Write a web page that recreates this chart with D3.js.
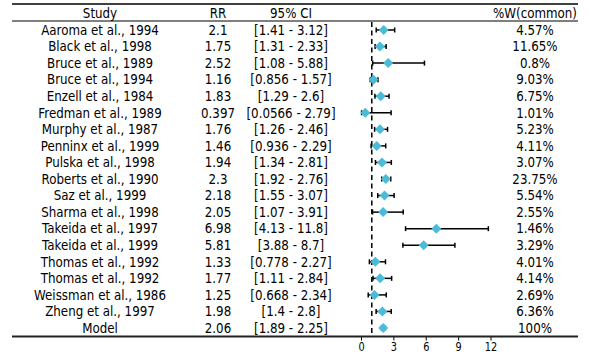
<!DOCTYPE html>
<html>
<head>
<meta charset="utf-8">
<script src="https://cdn.jsdelivr.net/npm/d3@7"></script>
<style>
  html, body { margin: 0; padding: 0; background: #fff; }
  svg text { font-family: "DejaVu Sans", sans-serif; font-size: 13.5px; fill: #000; }
</style>
</head>
<body>
<svg id="chart" width="590" height="354"></svg>
<script>
const studies = ["Aaroma et al., 1994","Black et al., 1998","Bruce et al., 1989","Bruce et al., 1994","Enzell et al., 1984","Fredman et al., 1989","Murphy et al., 1987","Penninx et al., 1999","Pulska et al., 1998","Roberts et al., 1990","Saz et al., 1999","Sharma et al., 1998","Takeida et al., 1997","Takeida et al., 1999","Thomas et al., 1992","Thomas et al., 1992","Weissman et al., 1986","Zheng et al., 1997","Model"];
const rr = [2.1,1.75,2.52,1.16,1.83,0.397,1.76,1.46,1.94,2.3,2.18,2.05,6.98,5.81,1.33,1.77,1.25,1.98,2.06];
const rrLabels = ["2.1","1.75","2.52","1.16","1.83","0.397","1.76","1.46","1.94","2.3","2.18","2.05","6.98","5.81","1.33","1.77","1.25","1.98","2.06"];
const ciLow = [1.41,1.31,1.08,0.856,1.29,0.0566,1.26,0.936,1.34,1.92,1.55,1.07,4.13,3.88,0.778,1.11,0.668,1.4,1.89];
const ciHigh = [3.12,2.33,5.88,1.57,2.6,2.79,2.46,2.29,2.81,2.76,3.07,3.91,11.8,8.7,2.27,2.84,2.34,2.8,2.25];
const ciLabels = ["[1.41 - 3.12]","[1.31 - 2.33]","[1.08 - 5.88]","[0.856 - 1.57]","[1.29 - 2.6]","[0.0566 - 2.79]","[1.26 - 2.46]","[0.936 - 2.29]","[1.34 - 2.81]","[1.92 - 2.76]","[1.55 - 3.07]","[1.07 - 3.91]","[4.13 - 11.8]","[3.88 - 8.7]","[0.778 - 2.27]","[1.11 - 2.84]","[0.668 - 2.34]","[1.4 - 2.8]","[1.89 - 2.25]"];
const weights = ["4.57%","11.65%","0.8%","9.03%","6.75%","1.01%","5.23%","4.11%","3.07%","23.75%","5.54%","2.55%","1.46%","3.29%","4.01%","4.14%","2.69%","6.36%","100%"];
const headers = ["Study","RR","95% CI","%W(common)"];
const xTicks = [0,3,6,9,12];
const refValue = 1;

const svg = d3.select("#chart");
const left = 12, right = 578;
const topRule = 4, headRule = 21, bottomRule = 336.5;
const headY = 13;
const sx = 0.88;

const x = d3.scaleLinear().domain([0, 12]).range([361, 490.5]);
const y = d3.scaleBand().domain(d3.range(studies.length)).range([headRule + 0.7, bottomRule - 0.2]);
const yc = i => y(i) + y.bandwidth() / 2;

const cols = [100, 218, 291, 535];

// rules
svg.append("line").attr("x1", left).attr("x2", right).attr("y1", topRule).attr("y2", topRule)
  .attr("stroke", "#000").attr("stroke-width", 1.5);
svg.append("line").attr("x1", left).attr("x2", right).attr("y1", headRule).attr("y2", headRule)
  .attr("stroke", "#000").attr("stroke-width", 1.2);

// headers
svg.selectAll("text.head").data(headers).join("text")
  .attr("class", "head")
  .attr("transform", (d, i) => `translate(${cols[i]},${headY}) scale(${sx},1)`)
  .attr("text-anchor", "middle").attr("dominant-baseline", "central")
  .text(d => d);

// table columns
const rowsG = svg.append("g");
const cellsData = [studies, rrLabels, ciLabels, weights];
cellsData.forEach((arr, c) => {
  rowsG.selectAll("text.c" + c).data(arr).join("text")
    .attr("class", "c" + c)
    .attr("transform", (d, i) => `translate(${cols[c]},${yc(i)}) scale(${sx},1)`)
    .attr("text-anchor", "middle").attr("dominant-baseline", "central")
    .text(d => d);
});

// reference line
svg.append("line").attr("x1", x(refValue)).attr("x2", x(refValue))
  .attr("y1", headRule + 1).attr("y2", bottomRule)
  .attr("stroke", "#000").attr("stroke-width", 1.5).attr("stroke-dasharray", "5,3.5");

// error bars
const idx = d3.range(studies.length);
const eb = svg.append("g").attr("stroke", "#000").attr("stroke-width", 1.5);
eb.selectAll("line.bar").data(idx).join("line")
  .attr("x1", i => x(ciLow[i])).attr("x2", i => x(ciHigh[i]))
  .attr("y1", yc).attr("y2", yc);
eb.selectAll("line.capl").data(idx).join("line")
  .attr("x1", i => x(ciLow[i])).attr("x2", i => x(ciLow[i]))
  .attr("y1", i => yc(i) - 2.5).attr("y2", i => yc(i) + 2.5);
eb.selectAll("line.caph").data(idx).join("line")
  .attr("x1", i => x(ciHigh[i])).attr("x2", i => x(ciHigh[i]))
  .attr("y1", i => yc(i) - 2.5).attr("y2", i => yc(i) + 2.5);

// diamonds
const sym = d3.symbol().type(d3.symbolSquare).size(50);
svg.append("g").selectAll("path").data(idx).join("path")
  .attr("d", sym)
  .attr("transform", i => `translate(${x(rr[i])},${yc(i)}) rotate(45)`)
  .attr("fill", "#4bbcd8");

// axis
const axis = d3.axisBottom(x).tickValues(xTicks).tickSize(4).tickPadding(2).tickFormat(d3.format("d"));
const ag = svg.append("g").attr("transform", `translate(0,${bottomRule})`).call(axis);
ag.select(".domain").remove();
ag.selectAll(".tick line").attr("stroke", "#000").attr("stroke-width", 1);
ag.selectAll(".tick text")
  .style("font-family", '"DejaVu Sans", sans-serif').style("font-size", "12.5px")
  .attr("fill", "#000")
  .attr("y", null).attr("dy", null)
  .attr("dominant-baseline", "central")
  .attr("transform", "translate(0,11) scale(0.78,1)");
svg.append("line").attr("x1", left).attr("x2", right).attr("y1", bottomRule).attr("y2", bottomRule)
  .attr("stroke", "#222").attr("stroke-width", 2.2);
</script>
</body>
</html>
